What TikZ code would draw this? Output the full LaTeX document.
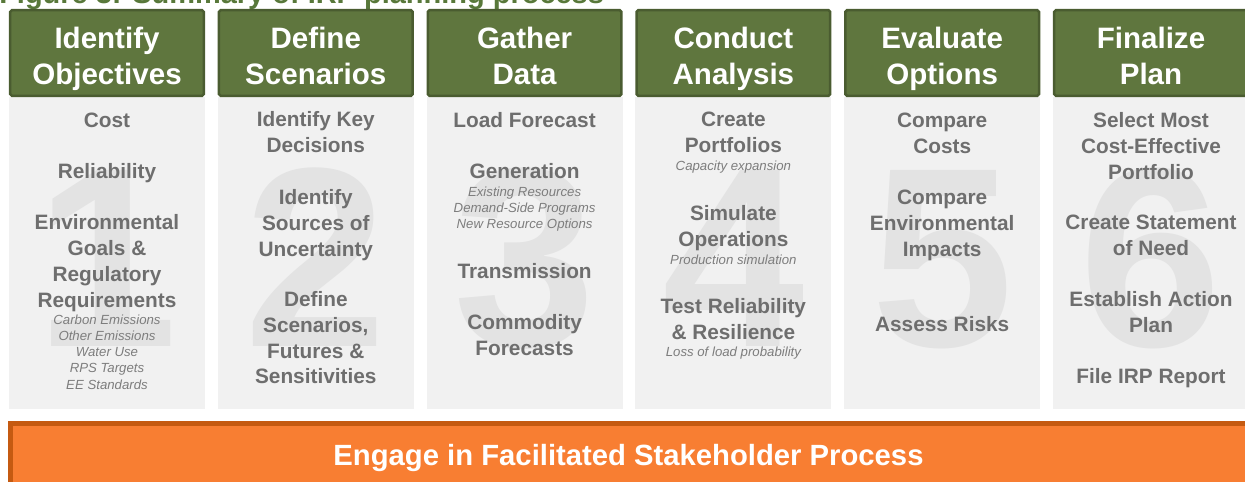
\documentclass[tikz,border=0pt]{standalone}
\usepackage{fontspec}
\setmainfont{Liberation Sans}
\usepackage{tikz}

\definecolor{hdrgreen}{RGB}{95,118,62}
\definecolor{hdrdark}{RGB}{74,92,48}
\definecolor{titlegreen}{RGB}{88,120,58}
\definecolor{panelgray}{RGB}{241,241,241}
\definecolor{digitgray}{RGB}{227,227,227}
\definecolor{bodygray}{RGB}{110,110,110}
\definecolor{notegray}{RGB}{125,125,125}
\definecolor{bandorange}{RGB}{248,126,50}
\definecolor{banddark}{RGB}{197,90,17}

\begin{document}
\begin{tikzpicture}[x=0.025cm,y=-0.025cm]
% Box and text styles (text nodes sit on the baseline of their last line)
\tikzset{
    panel/.style={fill=panelgray, inner sep=0pt, minimum width=4.9cm, minimum height=7.8cm},
    hdrbox/.style={draw=hdrdark, fill=hdrgreen, line width=1.8pt, rounded corners=1.2pt,
        inner sep=0pt, minimum width=4.84cm, minimum height=2.14cm},
    hdrtext/.style={text=white, font=\fontsize{21}{25.6}\selectfont\bfseries,
        align=center, anchor=base, inner sep=0pt},
    bignum/.style={text=digitgray, font=\fontsize{182}{182}\selectfont\bfseries,
        anchor=base, inner sep=0pt},
    task/.style={text=bodygray, font=\fontsize{14.8}{18.3}\selectfont\bfseries,
        align=center, anchor=base, inner sep=0pt},
    subnote/.style={text=notegray, font=\fontsize{9.4}{11.4}\selectfont\itshape,
        align=center, anchor=base, inner sep=0pt},
    band/.style={draw=banddark, fill=bandorange, line width=3.6pt, inner sep=0pt,
        minimum width=31.6cm, minimum height=2.2cm},
    bandtext/.style={text=white, font=\fontsize{20.8}{25}\selectfont\bfseries,
        anchor=base, inner sep=0pt}
}
\useasboundingbox (0,0) rectangle (1245,481);
\clip (0,0) rectangle (1245,481);
\fill[white] (0,0) rectangle (1245,481);

% Caption line
\node[anchor=base west, inner sep=0pt, text=titlegreen,
    font=\fontsize{20.6}{24}\selectfont\bfseries] (TITLE) at (-1,3)
    {Figure 3: Summary of IRP planning process};

% Panels
\node[panel] (B1) at (107,253){};
\node[panel] (B2) at (315.8,253){};
\node[panel] (B3) at (524.6,253){};
\node[panel] (B4) at (733.4,253){};
\node[panel] (B5) at (942.2,253){};
\node[panel] (B6) at (1151,253){};

% Step numbers
\node[bignum] (N1) at (107,346){1};
\node[bignum] (N2) at (315.8,346){2};
\node[bignum] (N3) at (524.6,346){3};
\node[bignum] (N4) at (733.4,346){4};
\node[bignum] (N5) at (942.2,346){5};
\node[bignum] (N6) at (1151,346){6};

% Headers
\node[hdrbox] (H1) at (107,53){};
\node[hdrbox] (H2) at (315.8,53){};
\node[hdrbox] (H3) at (524.6,53){};
\node[hdrbox] (H4) at (733.4,53){};
\node[hdrbox] (H5) at (942.2,53){};
\node[hdrbox] (H6) at (1151,53){};

\node[hdrtext] (OBJ) at (107,84){Identify\\Objectives};
\node[hdrtext] (SCN) at (315.8,84){Define\\Scenarios};
\node[hdrtext] (DATA) at (524.6,84){Gather\\Data};
\node[hdrtext] (ANA) at (733.4,84){Conduct\\Analysis};
\node[hdrtext] (EVAL) at (942.2,84){Evaluate\\Options};
\node[hdrtext] (FIN) at (1151,84){Finalize\\Plan};

% Column 1
\node[task] (COST) at (107,127){Cost};
\node[task] (RELIAB) at (107,178.4){Reliability};
\node[task] (ENV) at (107,307){Environmental\\Goals \&\\Regulatory\\Requirements};
\node[subnote] (ENV-N) at (107,389){Carbon Emissions\\Other Emissions\\Water Use\\RPS Targets\\EE Standards};

% Column 2
\node[task] (KEYDEC) at (315.8,152.7){Identify Key\\Decisions};
\node[task] (UNCERT) at (315.8,256){Identify\\Sources of\\Uncertainty};
\node[task] (FUTURES) at (315.8,383.9){Define\\Scenarios,\\Futures \&\\Sensitivities};

% Column 3
\node[task] (LOAD) at (524.6,127){Load Forecast};
\node[task] (GEN) at (524.6,178.4){Generation};
\node[subnote] (GEN-N) at (524.6,228.8){Existing Resources\\Demand-Side Programs\\New Resource Options};
\node[task] (TRANS) at (524.6,278.3){Transmission};
\node[task] (COMM) at (524.6,355.7){Commodity\\Forecasts};

% Column 4
\node[task] (PORT) at (733.4,152.7){Create\\Portfolios};
\node[subnote] (PORT-N) at (733.4,170.7){Capacity expansion};
\node[task] (SIM) at (733.4,246.4){Simulate\\Operations};
\node[subnote] (SIM-N) at (733.4,264.3){Production simulation};
\node[task] (TEST) at (733.4,339){Test Reliability\\\& Resilience};
\node[subnote] (TEST-N) at (733.4,356.7){Loss of load probability};

% Column 5
\node[task] (COSTS) at (942.2,153.2){Compare\\Costs};
\node[task] (IMPACT) at (942.2,256){Compare\\Environmental\\Impacts};
\node[task] (RISK) at (942.2,331.7){Assess Risks};

% Column 6
\node[task] (SELECT) at (1151,179){Select Most\\Cost-Effective\\Portfolio};
\node[task] (NEED) at (1151,255.5){Create Statement\\of Need};
\node[task] (ACTION) at (1151,332.4){Establish Action\\Plan};
\node[task] (REPORT) at (1151,383.5){File IRP Report};

% Stakeholder band
\node[band] (BAND) at (643,467.5){};
\node[bandtext] (ENGAGE) at (628.5,465){Engage in Facilitated Stakeholder Process};
\end{tikzpicture}
\end{document}
